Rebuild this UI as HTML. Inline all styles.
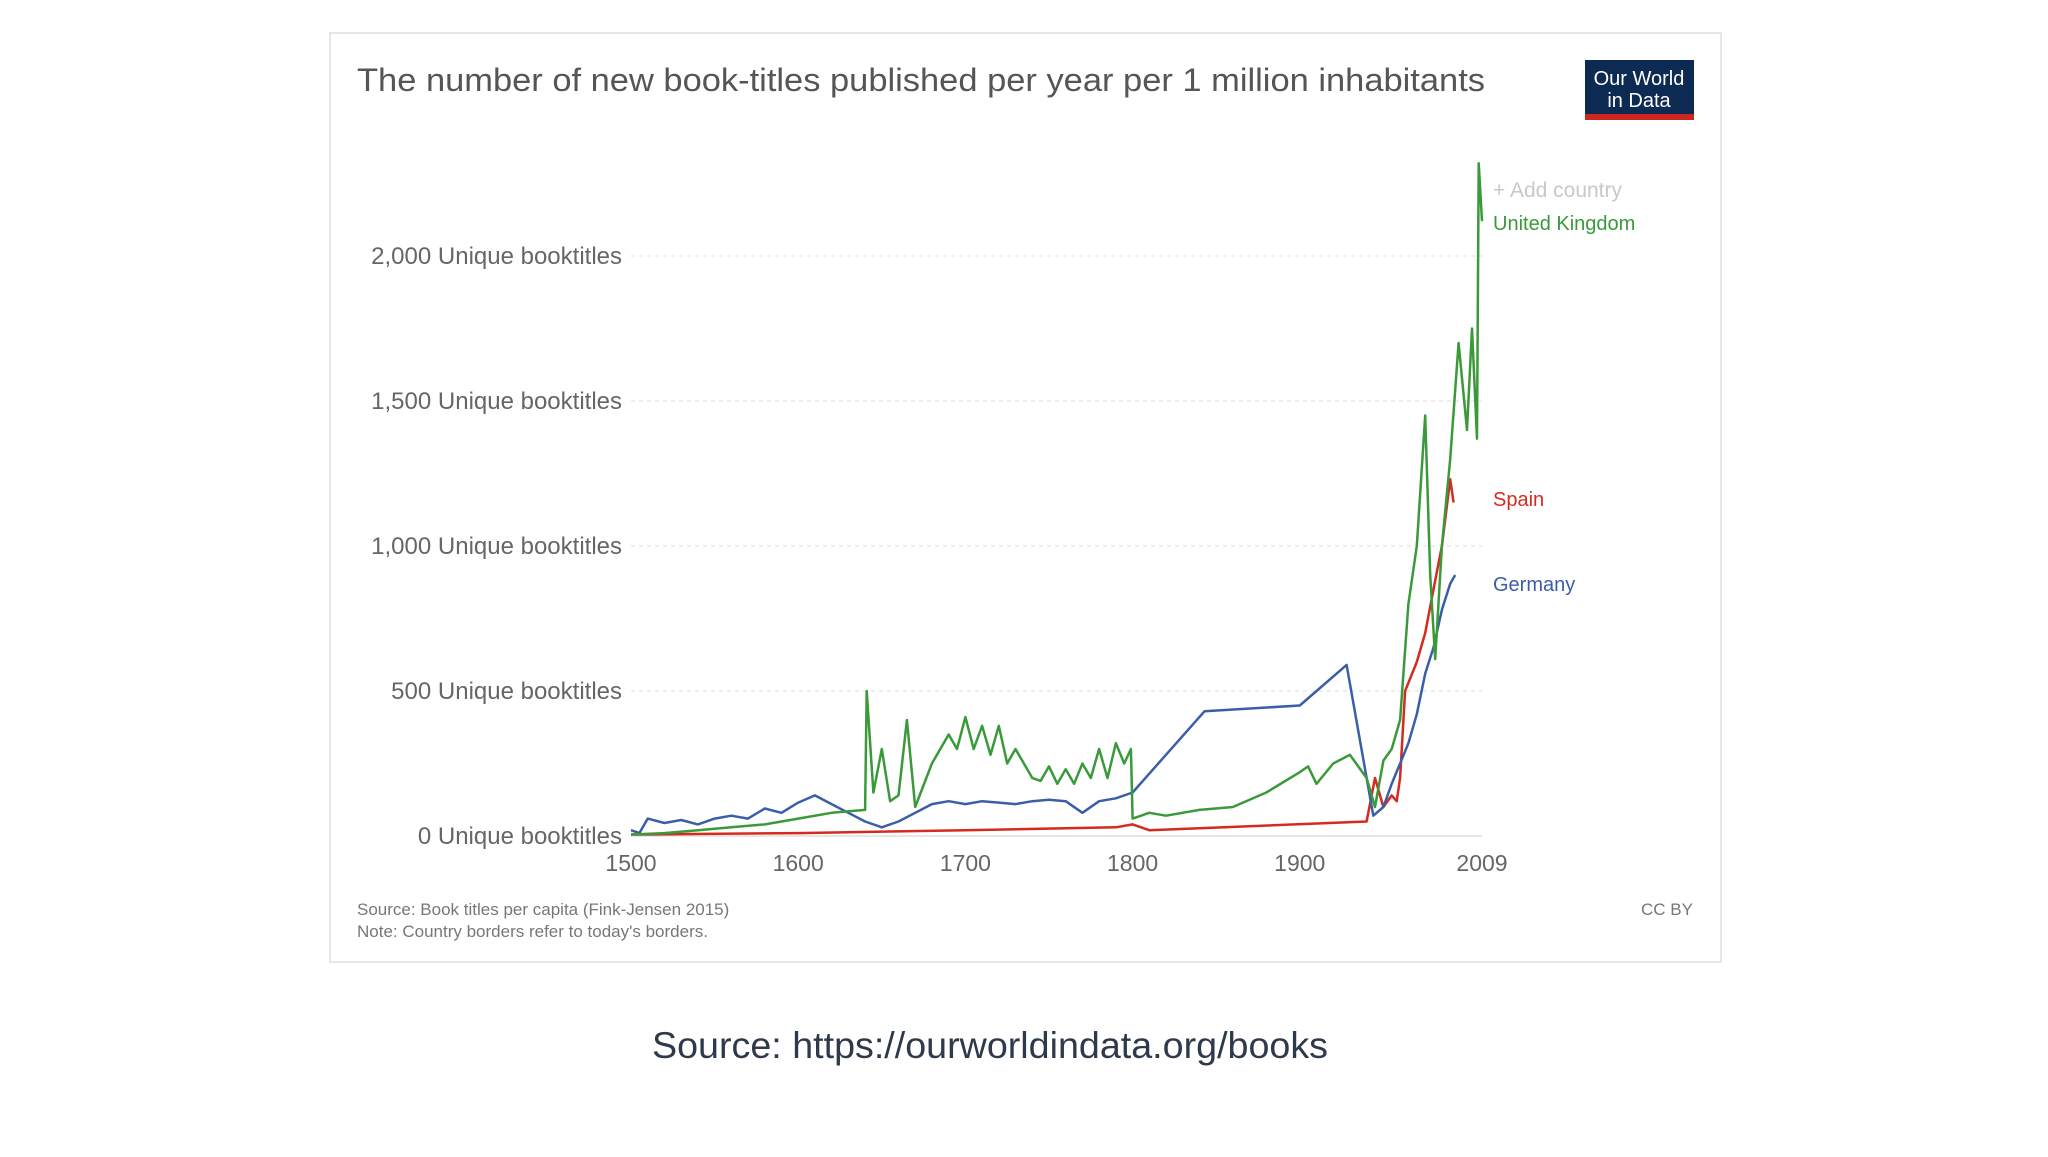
<!DOCTYPE html>
<html><head><meta charset="utf-8"><style>
body{margin:0;background:#fff;width:2048px;height:1152px;overflow:hidden;font-family:"Liberation Sans",sans-serif}
</style></head><body>
<svg width="2048" height="1152" viewBox="0 0 2048 1152" xmlns="http://www.w3.org/2000/svg" font-family="Liberation Sans, sans-serif">
<rect x="330" y="33" width="1391" height="929" fill="#fff" stroke="#e6e6e6" stroke-width="2"/>
<text x="357" y="91" font-size="32" fill="#555" textLength="1128" lengthAdjust="spacingAndGlyphs">The number of new book-titles published per year per 1 million inhabitants</text>
<g>
<rect x="1585" y="60" width="109" height="54" fill="#0d2a52"/>
<rect x="1585" y="114" width="109" height="6" fill="#ce261e"/>
<text x="1639" y="85" font-size="20" fill="#fff" text-anchor="middle">Our World</text>
<text x="1639" y="107" font-size="20" fill="#fff" text-anchor="middle">in Data</text>
</g>
<g id="grid"></g>
<g id="series"></g>
<g id="labels"></g>
<text x="1493" y="197" font-size="21" fill="#c8c8c8">+ Add country</text>
<text x="357" y="915" font-size="17" fill="#777">Source: Book titles per capita (Fink-Jensen 2015)</text>
<text x="357" y="937" font-size="17" fill="#777">Note: Country borders refer to today's borders.</text>
<text x="1693" y="915" font-size="17" fill="#777" text-anchor="end">CC BY</text>
<text x="990" y="1058" font-size="37" fill="#2e3a4a" text-anchor="middle" textLength="676" lengthAdjust="spacingAndGlyphs">Source: https://ourworldindata.org/books</text>
</svg>
<script>
const yTicks=[0,500,1000,1500,2000];
const xTicks=[1500,1600,1700,1800,1900,2009];
const ukYears=[1500,1520,1540,1560,1580,1600,1620,1640,1641,1645,1650,1655,1660,1665,1670,1680,1690,1695,1700,1705,1710,1715,1720,1725,1730,1740,1745,1750,1755,1760,1765,1770,1775,1780,1785,1790,1795,1799,1800,1810,1820,1840,1860,1880,1900,1905,1910,1920,1930,1940,1945,1950,1955,1960,1965,1970,1975,1978,1981,1985,1990,1995,2000,2003,2006,2007,2009];
const ukValues=[5,10,20,30,40,60,80,90,500,150,300,120,140,400,100,250,350,300,410,300,380,280,380,250,300,200,190,240,180,230,180,250,200,300,200,320,250,300,60,80,70,90,100,150,220,240,180,250,280,200,100,260,300,400,800,1000,1450,900,610,1000,1300,1700,1400,1750,1370,2320,2120];
const deYears=[1500,1505,1510,1520,1530,1540,1550,1560,1570,1580,1590,1600,1610,1620,1630,1640,1650,1660,1670,1680,1690,1700,1710,1720,1730,1740,1750,1760,1770,1780,1790,1800,1843,1900,1928,1944,1950,1955,1960,1965,1970,1975,1980,1985,1990,1993];
const deValues=[20,10,60,45,55,40,60,70,60,95,80,115,140,110,80,50,30,50,80,110,120,110,120,115,110,120,125,120,80,120,130,150,430,450,590,70,100,180,250,320,420,560,650,780,870,900];
const esYears=[1500,1600,1700,1790,1800,1810,1940,1945,1950,1955,1958,1960,1963,1970,1975,1980,1985,1990,1992];
const esValues=[5,10,20,30,40,20,50,200,100,140,120,200,500,600,700,850,1000,1230,1150];
const NS="http://www.w3.org/2000/svg";
const X0=631,X1=1482,Y0=836,PX=145/500;
function xs(y){return X0+(y-1500)*(X1-X0)/509;}
function ys(v){return Y0-v*PX;}
const grid=document.getElementById('grid');
yTicks.forEach(t=>{
  const l=document.createElementNS(NS,'line');
  
  
  l.setAttribute('x1',X0);l.setAttribute('x2',X1);l.setAttribute('y1',ys(t));l.setAttribute('y2',ys(t));
  l.setAttribute('stroke',t===0?'#ccc':'#ddd');l.setAttribute('stroke-dasharray',t===0?'':'4,4');
  grid.appendChild(l);
  const tx=document.createElementNS(NS,'text');
  
  
  tx.setAttribute('x',622);tx.setAttribute('y',ys(t)+8);tx.setAttribute('font-size','24');tx.setAttribute('fill','#666');tx.setAttribute('text-anchor','end');
  tx.textContent=t.toLocaleString('en-US')+' Unique booktitles';
  grid.appendChild(tx);
});
xTicks.forEach(t=>{
  const tx=document.createElementNS(NS,'text');
  
  
  tx.setAttribute('x',xs(t));tx.setAttribute('y',871);tx.setAttribute('font-size','23');tx.setAttribute('fill','#666');tx.setAttribute('text-anchor','middle');
  tx.textContent=t;
  grid.appendChild(tx);
});
const ser=document.getElementById('series');
function draw(name,yrs,vals,color){
  const p=document.createElementNS(NS,'path');
  
  
  p.setAttribute('d',yrs.map((y,i)=>(i?'L':'M')+xs(y).toFixed(1)+','+ys(vals[i]).toFixed(1)).join(''));
  p.setAttribute('fill','none');p.setAttribute('stroke',color);p.setAttribute('stroke-width','2.5');p.setAttribute('stroke-linejoin','round');
  ser.appendChild(p);
}
draw('series-spain',esYears,esValues,'#d42b21');
draw('series-germany',deYears,deValues,'#3b5ea8');
draw('series-united-kingdom',ukYears,ukValues,'#3a9a3a');
const lab=document.getElementById('labels');
[['legend-united-kingdom','United Kingdom',230,'#3a9a3a'],['legend-spain','Spain',506,'#d42b21'],['legend-germany','Germany',591,'#3b5ea8']].forEach(d=>{
  const tx=document.createElementNS(NS,'text');
  
  
  tx.setAttribute('x',1493);tx.setAttribute('y',d[2]);tx.setAttribute('font-size','20');tx.setAttribute('fill',d[3]);
  tx.textContent=d[1];
  lab.appendChild(tx);
});
</script>
</body></html>
